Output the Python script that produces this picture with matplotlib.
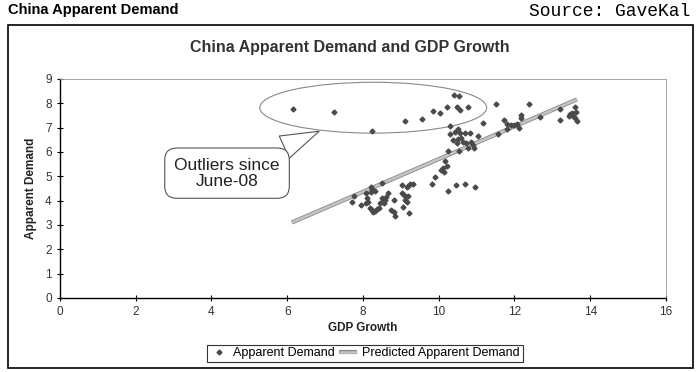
import numpy as np
import matplotlib.pyplot as plt
import matplotlib.patheffects as pe
from matplotlib.patches import Ellipse, Rectangle

plt.rcParams['font.family'] = ['Liberation Sans', 'DejaVu Sans']

# GDP growth (x) and apparent demand (y)
gdp = [6.14, 7.24, 8.25, 9.10, 9.55, 9.84, 10.03, 10.23, 10.40, 10.54,
       10.49, 10.55, 10.76, 11.50, 12.38, 12.16, 12.16, 11.17, 11.73, 11.79,
       11.92, 12.00, 12.07, 12.12, 11.80, 11.57, 10.31, 10.51, 10.42, 10.55,
       10.29, 10.69, 10.82, 11.04, 10.38, 10.51, 10.60, 10.64, 10.73, 10.86,
       10.47, 10.91, 10.92, 10.77, 10.25, 10.54, 10.16, 10.22, 10.11, 10.07,
       10.15, 9.89, 9.83, 10.25, 10.45, 10.69, 10.95,
       12.68, 13.19, 13.19, 13.59, 13.46, 13.53, 13.54, 13.44, 13.63, 13.61, 13.65,
       7.70, 7.76, 7.96, 8.09, 8.11, 8.14, 8.07, 8.20, 8.25, 8.31,
       8.22, 8.49, 8.18, 8.25, 8.31, 8.37, 8.42, 8.27, 8.49, 8.53,
       8.58, 8.62, 8.66, 8.55, 8.44, 8.82, 8.75, 8.81, 8.84, 9.04,
       9.19, 9.25, 9.32, 9.15, 9.02, 9.08, 9.13, 9.19, 9.10, 9.16,
       9.06, 9.22]
demand = [7.76, 7.63, 6.87, 7.29, 7.34, 7.69, 7.61, 7.83, 8.35, 8.30,
          7.86, 7.72, 7.86, 7.97, 7.97, 7.53, 7.39, 7.20, 7.31, 7.15,
          7.10, 7.10, 7.17, 7.00, 6.93, 6.73, 7.06, 6.93, 6.83, 6.76,
          6.73, 6.76, 6.76, 6.65, 6.49, 6.52, 6.56, 6.42, 6.38, 6.42,
          6.38, 6.28, 6.15, 6.15, 6.05, 6.05, 5.62, 5.42, 5.33, 5.26,
          5.19, 4.98, 4.70, 4.38, 4.64, 4.70, 4.57,
          7.42, 7.75, 7.31, 7.86, 7.56, 7.59, 7.47, 7.47, 7.65, 7.38, 7.28,
          3.96, 4.19, 3.82, 4.30, 4.09, 3.96, 3.92, 4.57, 4.46, 4.41,
          4.37, 4.71, 3.68, 3.61, 3.59, 3.64, 3.68, 3.54, 4.09, 3.96,
          4.02, 4.16, 4.30, 3.89, 3.89, 4.02, 3.61, 3.54, 3.37, 4.64,
          4.60, 4.68, 4.68, 4.55, 4.30, 4.23, 4.14, 4.19, 4.02, 3.96,
          3.75, 3.48]

# predicted line end points
pred_x = [6.12, 13.65]
pred_y = [3.10, 8.16]

fig = plt.figure(figsize=(7, 3.72), dpi=100)
ax = fig.add_axes([0.0857, 0.199, 0.8657, 0.5887])

ax.plot(pred_x, pred_y, color='#c4c4c4', lw=1.8, solid_capstyle='butt',
        path_effects=[pe.Stroke(linewidth=3.0, foreground='#8a8a8a'), pe.Normal()],
        label='Predicted Apparent Demand', zorder=2)
ax.plot(gdp, demand, ls='none', marker='D', ms=2.5, color='#4a4a4a',
        label='Apparent Demand', zorder=3)

ax.set_xlim(0, 16)
ax.set_ylim(0, 9)
ax.set_xticks(np.arange(0, 17, 2))
ax.set_yticks(np.arange(0, 10, 1))
ax.tick_params(direction='inout', length=5, width=0.8, labelsize=8.5,
               labelcolor='#333333')
for s in ['top', 'right']:
    ax.spines[s].set_color('#999999')
    ax.spines[s].set_linewidth(0.6)
for s in ['left', 'bottom']:
    ax.spines[s].set_linewidth(1.0)

ax.set_xlabel('GDP Growth', fontsize=8.5, fontweight='bold', color='#222222', labelpad=3)
ax.set_ylabel('Apparent Demand', fontsize=8.5, fontweight='bold', color='#222222', labelpad=6)

# ellipse around outliers
ax.add_patch(Ellipse((8.27, 7.82), 5.99, 2.09, fill=False, ec='#888888', lw=0.8, zorder=1))

# callout
ax.annotate('Outliers since\nJune-08', xy=(6.91, 6.9), xytext=(4.41, 5.13),
            fontsize=12.5, ha='center', va='center', color='#222222', linespacing=1.1,
            bbox=dict(boxstyle='round,pad=0.55,rounding_size=0.7', fc='white',
                      ec='#555555', lw=0.8),
            arrowprops=dict(arrowstyle='wedge,tail_width=1.4,shrink_factor=0.5',
                            fc='white', ec='#555555', lw=0.8))

handles, labels = ax.get_legend_handles_labels()
leg = fig.legend(handles[::-1], labels[::-1], loc='center', bbox_to_anchor=(0.521, 0.051),
                 ncol=2, fontsize=9, frameon=True, fancybox=False, edgecolor='black',
                 handlelength=1.5, handletextpad=0.4, columnspacing=0.3,
                 borderpad=0.2, markerscale=1.0)
leg.get_frame().set_linewidth(0.8)

fig.text(0.5, 0.873, 'China Apparent Demand and GDP Growth', ha='center', va='center',
         fontsize=11.5, fontweight='bold', color='#333333')
fig.text(0.012, 0.972, 'China Apparent Demand', ha='left', va='center',
         fontsize=10.5, fontweight='bold', family=['Liberation Sans Narrow', 'Liberation Sans'])
fig.text(0.986, 0.968, 'Source: GaveKal', ha='right', va='center',
         fontsize=13, family=['Liberation Mono', 'DejaVu Sans Mono'])

fig.patches.append(Rectangle((0.0114, 0.011), 0.979, 0.922, transform=fig.transFigure,
                             fill=False, ec='black', lw=1.2))

fig.savefig('out.png', dpi=100)
